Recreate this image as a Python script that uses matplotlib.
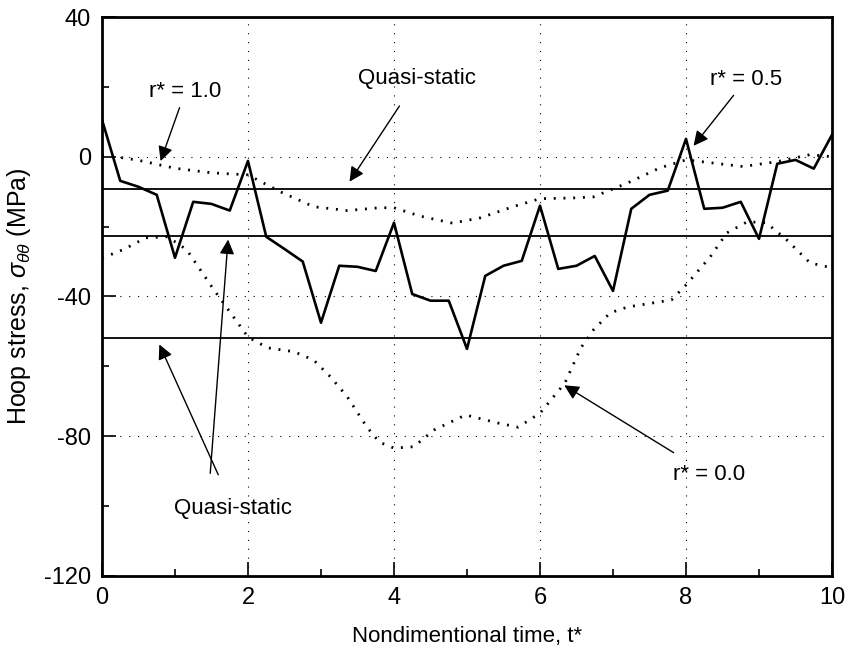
import numpy as np
import matplotlib
matplotlib.use("Agg")
import matplotlib.pyplot as plt
from matplotlib.ticker import MultipleLocator

plt.rcParams['font.family'] = ['Liberation Sans', 'DejaVu Sans']
plt.rcParams['mathtext.fontset'] = 'custom'
plt.rcParams['mathtext.it'] = 'Liberation Sans:italic'
plt.rcParams['mathtext.rm'] = 'Liberation Sans'
plt.rcParams['axes.unicode_minus'] = False

# r* = 0.5 (solid, step 0.25)
t_half = np.arange(0, 10.01, 0.25)
s_half = [10.6, -6.9, -8.6, -10.9, -28.9, -12.9, -13.5, -15.4, -1.2, -22.9,
          -26.4, -30.0, -47.5, -31.2, -31.5, -32.7, -18.9, -39.3, -41.2, -41.2,
          -55.0, -34.1, -31.2, -29.8, -14.0, -32.1, -31.2, -28.4, -38.4, -14.9,
          -10.9, -9.7, 5.1, -14.9, -14.6, -12.9, -23.5, -2.0, -0.9, -3.4, 6.3]

# r* = 1.0 (dotted)
t_one = [0.0, 0.5, 1.0, 1.5, 2.0, 2.44, 2.9, 3.36, 3.8, 4.0, 4.36, 4.8, 5.18,
         5.63, 6.0, 6.45, 6.73, 7.2, 7.64, 8.0, 8.33, 8.78, 9.25, 9.7, 10.0]
s_one = [0.6, -1.0, -3.3, -4.6, -5.2, -10.0, -14.3, -15.4, -14.6, -14.6, -17.0,
         -19.0, -17.5, -14.3, -12.0, -11.8, -11.5, -7.5, -3.2, -0.9, -1.7,
         -2.8, -1.4, 0.6, 0.0]

# r* = 0.0 (dotted)
t_zero = [0.0, 0.3, 0.6, 0.9, 1.16, 1.53, 1.9, 2.0, 2.27, 2.63, 2.9, 3.13, 3.36,
          3.63, 3.8, 4.0, 4.27, 4.55, 4.98, 5.42, 5.7, 6.0, 6.34, 6.56, 6.73,
          6.96, 7.2, 7.8, 8.0, 8.33, 8.56, 8.84, 9.1, 9.38, 9.7, 10.0]
s_zero = [-29.0, -26.5, -23.2, -22.9, -26.6, -38.0, -48.7, -51.6, -54.7, -55.8,
          -58.2, -63.0, -68.7, -77.4, -81.7, -83.4, -83.0, -78.2, -73.9, -76.2,
          -77.4, -73.4, -64.8, -54.7, -49.6, -44.7, -43.0, -41.0, -36.7, -28.7,
          -21.8, -18.6, -18.9, -23.8, -30.4, -31.8]

# quasi-static levels
quasi = [-9.2, -22.6, -51.8]

fig = plt.figure(figsize=(8.47, 6.49), dpi=100)
ax = fig.add_axes([0.1204, 0.1125, 0.8619, 0.8613])

for q in quasi:
    ax.axhline(q, color='black', lw=1.3)
ax.plot(t_one, s_one, color='black', lw=2.0, linestyle=(0, (0.7, 2.8)))
ax.plot(t_zero, s_zero, color='black', lw=2.0, linestyle=(0, (0.7, 2.8)))
ax.plot(t_half, s_half, color='black', lw=1.9)

# dotted grid on inner major ticks
for gx in [2, 4, 6, 8]:
    ax.axvline(gx, color='black', lw=0.8, linestyle=(0, (1, 7)), zorder=0)
for gy in [0, -40, -80]:
    ax.axhline(gy, color='black', lw=0.8, linestyle=(0, (1, 7)), zorder=0)

ax.set_xlim(0, 10)
ax.set_ylim(-120, 40)
ax.xaxis.set_major_locator(MultipleLocator(2))
ax.xaxis.set_minor_locator(MultipleLocator(1))
ax.yaxis.set_major_locator(MultipleLocator(40))
ax.yaxis.set_minor_locator(MultipleLocator(20))
ax.tick_params(which='both', direction='in', top=False, right=False, labelsize=17, width=1.2)
ax.tick_params(which='major', length=10, pad=8)
ax.tick_params(which='minor', length=5)
for sp in ax.spines.values():
    sp.set_linewidth(2)

ax.set_xlabel('Nondimentional time, t*', fontsize=16, labelpad=12)
ax.set_ylabel(r'Hoop stress, $\sigma_{\theta\theta}$ (MPa)', fontsize=18, labelpad=8)

arr = dict(arrowstyle='-|>', color='black', lw=1.0, mutation_scale=22)
ax.annotate('r* = 1.0', xy=(0.79, -2), xytext=(1.14, 18.6), fontsize=16,
            ha='center', va='center', arrowprops=arr)
ax.annotate('Quasi-static', xy=(3.37, -7.8), xytext=(4.32, 22.3), fontsize=16,
            ha='center', va='center', arrowprops=dict(arr, shrinkA=12))
ax.annotate('r* = 0.5', xy=(8.08, 2.5), xytext=(8.82, 22), fontsize=16,
            ha='center', va='center', arrowprops=arr)
ax.annotate('r* = 0.0', xy=(6.3, -65), xytext=(8.32, -91), fontsize=16,
            ha='center', va='center', arrowprops=dict(arr, shrinkA=12))
ax.annotate('Quasi-static', xy=(0.77, -53), xytext=(1.8, -100.6), fontsize=16,
            ha='center', va='center', arrowprops=dict(arr, shrinkA=16))
ax.annotate('', xy=(1.73, -22.9), xytext=(1.48, -91.4), arrowprops=arr)

fig.savefig('out.png', dpi=100)
